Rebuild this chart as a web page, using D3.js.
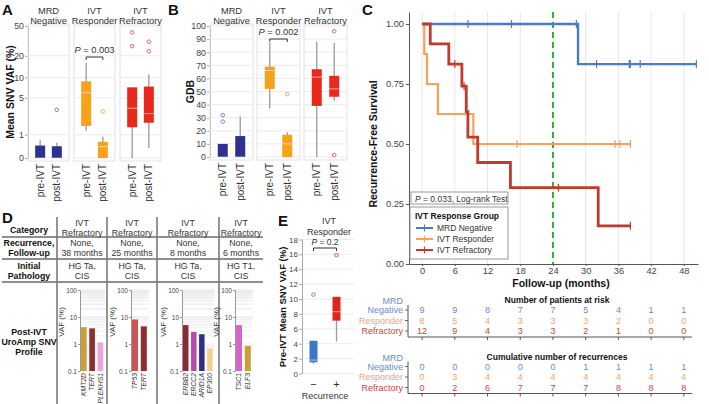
<!DOCTYPE html>
<html lang="en">
<head>
<meta charset="UTF-8">
<script src="https://d3js.org/d3.v7.min.js"></script>
<title>IVT response figure</title>
<style>
  body { margin: 0; background: #fff; }
  text { font-family: "Liberation Sans", Arial, sans-serif; fill: #333; }
</style>
</head>
<body>
<svg id="fig"></svg>
<script>
// ---------- data ----------
const abGroups = ["MRD Negative", "IVT Responder", "IVT Refractory"];
const abHeaders = [["MRD", "Negative"], ["IVT", "Responder"], ["IVT", "Refractory"]];
const abTimes = ["pre-IVT", "post-IVT"];
// box = [low whisker, q1, median, q3, high whisker]; order group x timepoint
const vafBoxes = [[0, 0, 0, 0.45, 0.72], [0, 0, 0, 0.42, 0.58],
                  [1.25, 1.6, 6.0, 8.8, 16], [0, 0, 0.4, 0.62, 0.88],
                  [0, 1.5, 3.4, 7.2, 7.2], [0.35, 1.86, 2.75, 7.4, 11]];
const vafOutliers = [[], [3.2], [], [3.0], [27, 41], [23, 31]];
const vafTicks = [0, 1, 5, 10, 20, 50];
const gdbBoxes = [[0, 0, 0, 10, 10], [0, 0, 0, 16, 31],
                  [37, 52, 66, 69, 87], [0, 0, 10, 17, 19],
                  [0, 39, 61, 67, 88], [43, 46, 52, 62, 87]];
const gdbOutliers = [[27, 32], [], [], [48], [], [1.5, 96]];
const gdbTicks = [0, 10, 20, 30, 40, 50, 60, 70, 80, 90, 100];

// Kaplan-Meier steps
const kmGroups = ["MRD Negative", "IVT Responder", "IVT Refractory"];
const mrdTimes = [0, 28.6, 50.3];
const mrdSurv = [1, 0.833, 0.833];
const mrdCensor = [8.4, 16.4, 28.3, 32, 38, 38.2, 40, 50.3];
const respTimes = [0, 0.4, 0.9, 2.9, 9.4, 38.2];
const respSurv = [1, 0.875, 0.75, 0.625, 0.5, 0.5];
const respCensor = [17.4, 35.4, 36.3, 38.2];
const refrTimes = [0, 1.5, 4.9, 7.3, 8.1, 8.4, 10.2, 16.2, 32.3, 38.2];
const refrSurv = [1, 0.917, 0.833, 0.741, 0.635, 0.529, 0.423, 0.318, 0.159, 0.159];
const refrCensor = [6.0, 7.7, 25, 38.2];
const monthTicks = [0, 6, 12, 18, 24, 30, 36, 42, 48];
const survTicks = [0, 0.25, 0.5, 0.75, 1];
const landmark = 24;

const mrdAtRisk = [9, 9, 8, 7, 7, 5, 4, 1, 1];
const respAtRisk = [8, 5, 4, 3, 3, 3, 2, 0, 0];
const refrAtRisk = [12, 9, 4, 3, 3, 2, 1, 0, 0];
const mrdCumRec = [0, 0, 0, 0, 0, 1, 1, 1, 1];
const respCumRec = [0, 3, 4, 4, 4, 4, 4, 4, 4];
const refrCumRec = [0, 2, 6, 7, 7, 7, 8, 8, 8];

// panel D
const dCategory = [["IVT", "Refractory"], ["IVT", "Refractory"], ["IVT", "Refractory"], ["IVT", "Refractory"]];
const dFollowUp = [["None,", "38 months"], ["None,", "25 months"], ["None,", "8 months"], ["None,", "6 months"]];
const dPathology = [["HG Ta,", "CIS"], ["HG Ta,", "CIS"], ["HG Ta,", "CIS"], ["HG T1,", "CIS"]];
const dGenes = [["KMT2D", "TERT", "PLEKHS1"], ["TP53", "TERT"], ["ERBB2", "ERCC2", "ARID1A", "EP300"], ["TSC1", "ELF3"]];
const dVaf = [[4.2, 3.8, 1.15], [8.1, 4.5], [5.0, 2.8, 2.3, 0.68], [5.0, 0.85]];
const dVafTicks = [0.1, 1, 10, 100];

// panel E
const eGroups = ["\u2212", "+"];
const eBoxes = [[1.3, 1.5, 1.8, 4.4, 4.4], [4.3, 7.1, 8.3, 10.3, 10.3]];
const eOutliers = [[10.6], [15.9]];
const eTicks = [0, 2, 4, 6, 8, 10, 12, 14, 16, 18];

// ---------- styles ----------
const boxFill = ["#2e3192", "#f7a21b", "#e8291c"];
const outlierCol = ["#7f83c6", "#f2b250", "#e46a62"];
const kmCol = ["#4b7bc5", "#f6a05c", "#c23a2b"];
const tabCol = ["#6a8cc9", "#f2a56c", "#c8463c"];
const geneCol = {KMT2D: "#c9a038", TERT: "#8e2f2f", PLEKHS1: "#eaa6dd", TP53: "#cc5454",
  ERBB2: "#8b2a35", ERCC2: "#b44bb0", ARID1A: "#2f2e86", EP300: "#f4cf8e", TSC1: "#d565c8", ELF3: "#c9a038"};

const svg = d3.select("#fig").attr("width", 709).attr("height", 404);

function panelLabel(t, x, y) {
  svg.append("text").attr("x", x).attr("y", y).attr("font-size", 15)
    .attr("font-weight", "bold").style("fill", "#111").text(t);
}

function pText(g, x, y, val, size) {
  const t = g.append("text").attr("x", x).attr("y", y).attr("text-anchor", "middle").attr("font-size", size);
  t.append("tspan").attr("font-style", "italic").text("P");
  t.append("tspan").text(" = " + val);
}

function bracket(g, x1, x2, y) {
  g.append("path").attr("d", `M${x1},${y + 3}V${y}H${x2}V${y + 3}`)
    .attr("fill", "none").attr("stroke", "#333").attr("stroke-width", 1);
}

function drawBox(g, cx, w, y, b, fill) {
  g.append("line").attr("x1", cx).attr("x2", cx).attr("y1", y(b[0])).attr("y2", y(b[4]))
    .attr("stroke", "#9a9a9a").attr("stroke-width", 1.3);
  g.append("rect").attr("x", cx - w / 2).attr("width", w).attr("y", y(b[3]))
    .attr("height", Math.max(0, y(b[1]) - y(b[3]))).attr("fill", fill);
  g.append("line").attr("x1", cx - w / 2).attr("x2", cx + w / 2).attr("y1", y(b[2])).attr("y2", y(b[2]))
    .attr("stroke", "rgba(255,255,255,0.55)").attr("stroke-width", 1);
}

function styleAxis(ax, size) {
  ax.selectAll("text").attr("font-size", size).style("fill", "#444");
  ax.select(".domain").attr("stroke", "#aaa");
  ax.selectAll(".tick line").attr("stroke", "#aaa");
}

// ---------- panels A and B ----------
function facetPanel(cfg) {
  const g = svg.append("g");
  const y = cfg.y;
  const [yb, yt] = y.range();
  const fx = d3.scaleBand().domain(abGroups).range([cfg.left, cfg.right]).paddingInner(cfg.gap);
  const px = d3.scalePoint().domain(abTimes).range([0, fx.bandwidth()]).padding(0.73);

  const ax = g.append("g").attr("transform", `translate(${cfg.left},0)`)
    .call(d3.axisLeft(y).tickValues(cfg.ticks).tickSize(3).tickPadding(1).tickSizeOuter(0));
  styleAxis(ax, 8.8);

  g.append("text").attr("transform", `translate(${cfg.titleX},${(yb + yt) / 2}) rotate(-90)`)
    .attr("text-anchor", "middle").attr("font-size", 10.5).attr("font-weight", "bold")
    .style("fill", "#111").text(cfg.title);

  abGroups.forEach((grp, gi) => {
    const f = g.append("g").attr("transform", `translate(${fx(grp)},0)`);
    f.selectAll("line.grid").data(cfg.ticks).join("line").attr("class", "grid")
      .attr("x1", 0).attr("x2", fx.bandwidth()).attr("y1", d => y(d)).attr("y2", d => y(d))
      .attr("stroke", "#ececec");
    f.append("rect").attr("x", 0).attr("y", yt - 2).attr("width", fx.bandwidth()).attr("height", yb - yt + 5)
      .attr("fill", "none").attr("stroke", "#e2e2e2");
    abHeaders[gi].forEach((line, li) => {
      f.append("text").attr("x", fx.bandwidth() / 2).attr("y", 14 + li * 10)
        .attr("text-anchor", "middle").attr("font-size", 9.3).text(line);
    });
    abTimes.forEach((tp, ti) => {
      const k = gi * 2 + ti;
      const cx = px(tp);
      drawBox(f, cx, 10, y, cfg.boxes[k], boxFill[gi]);
      f.selectAll(null).data(cfg.outliers[k]).join("circle")
        .attr("cx", cx).attr("cy", d => y(d)).attr("r", 1.8)
        .attr("fill", "none").attr("stroke", outlierCol[gi]).attr("stroke-width", 1);
      f.append("text").attr("transform", `translate(${cx + 3.5},${yb + 6}) rotate(-90)`)
        .attr("text-anchor", "end").attr("font-size", 10).text(tp);
    });
    if (gi === 1) {
      pText(f, fx.bandwidth() / 2, cfg.pY, cfg.p, 9.3);
      bracket(f, px("pre-IVT"), px("post-IVT"), cfg.pY + 4);
    }
  });
}

facetPanel({
  left: 28, right: 161, gap: 5 / 46,
  y: d3.scaleSymlog().constant(1).domain([0, 50]).range([158, 26]),
  ticks: vafTicks, boxes: vafBoxes, outliers: vafOutliers,
  title: "Mean SNV VAF (%)", titleX: 14, p: "0.003", pY: 53
});
facetPanel({
  left: 210, right: 347, gap: 4 / 47,
  y: d3.scaleLinear().domain([0, 100]).range([157, 26]),
  ticks: gdbTicks, boxes: gdbBoxes, outliers: gdbOutliers,
  title: "GDB", titleX: 194, p: "0.002", pY: 35
});
panelLabel("A", 2, 15);
panelLabel("B", 168, 15);

// ---------- panel C ----------
{
  const g = svg.append("g");
  const x = d3.scaleLinear().domain([-2.4, 50.6]).range([409, 698]);
  const y = d3.scaleLinear().domain([0, 1.05]).range([264, 12]);

  g.selectAll("line.vg").data(monthTicks).join("line").attr("class", "vg")
    .attr("x1", d => x(d)).attr("x2", d => x(d)).attr("y1", y(1.05)).attr("y2", y(0))
    .attr("stroke", "#e6e6e6").attr("stroke-width", 1);

  const ay = g.append("g").attr("transform", "translate(409,0)")
    .call(d3.axisLeft(y).tickValues(survTicks).tickFormat(d3.format(".2f")).tickSize(3).tickPadding(2).tickSizeOuter(0));
  const axb = g.append("g").attr("transform", `translate(0,${y(0)})`)
    .call(d3.axisBottom(x).tickValues(monthTicks).tickSize(2).tickPadding(1).tickSizeOuter(0));
  [ay, axb].forEach(a => {
    a.selectAll("text").attr("font-size", 9.3).style("fill", "#444");
    a.select(".domain").attr("stroke", "#555");
    a.selectAll(".tick line").attr("stroke", "#555");
  });

  g.append("line").attr("x1", x(landmark)).attr("x2", x(landmark)).attr("y1", y(1.05)).attr("y2", y(0))
    .attr("stroke", "#2fae3a").attr("stroke-width", 2).attr("stroke-dasharray", "6,4");

  const series = [[mrdTimes, mrdSurv, mrdCensor], [respTimes, respSurv, respCensor], [refrTimes, refrSurv, refrCensor]];
  const widths = [2.4, 2.2, 2.8];
  const line = d3.line().curve(d3.curveStepAfter).x(d => x(d[0])).y(d => y(d[1]));
  series.forEach(([T, S, C], i) => {
    g.append("path").attr("d", line(d3.zip(T, S))).attr("fill", "none")
      .attr("stroke", kmCol[i]).attr("stroke-width", widths[i]);
    g.selectAll(null).data(C).join("line")
      .attr("x1", d => x(d)).attr("x2", d => x(d))
      .attr("y1", d => y(S[d3.bisectRight(T, d) - 1]) - 4)
      .attr("y2", d => y(S[d3.bisectRight(T, d) - 1]) + 4)
      .attr("stroke", kmCol[i]).attr("stroke-width", 1.2);
  });

  g.append("text").attr("transform", `translate(377,${(y(0) + y(1)) / 2}) rotate(-90)`)
    .attr("text-anchor", "middle").attr("font-size", 10.5).attr("font-weight", "bold")
    .style("fill", "#111").text("Recurrence-Free Survival");
  g.append("text").attr("x", 561).attr("y", 287).attr("text-anchor", "middle")
    .attr("font-size", 10.5).attr("font-weight", "bold").style("fill", "#111").text("Follow-up (months)");

  // p-value box and legend
  g.append("rect").attr("x", 411).attr("y", 192).attr("width", 97).attr("height", 12)
    .attr("fill", "#fff").attr("stroke", "#999");
  const pt = g.append("text").attr("x", 415).attr("y", 201.5).attr("font-size", 8.5);
  pt.append("tspan").attr("font-style", "italic").text("P");
  pt.append("tspan").text(" = 0.033, Log-rank Test");

  g.append("rect").attr("x", 410).attr("y", 207).attr("width", 98).attr("height", 52)
    .attr("fill", "#fff").attr("stroke", "#999");
  g.append("text").attr("x", 415).attr("y", 219).attr("font-size", 8.5).attr("font-weight", "bold")
    .style("fill", "#111").text("IVT Response Group");
  kmGroups.forEach((name, i) => {
    const ly = 228 + i * 11;
    g.append("line").attr("x1", 416).attr("x2", 433).attr("y1", ly).attr("y2", ly)
      .attr("stroke", kmCol[i]).attr("stroke-width", 2);
    g.append("line").attr("x1", 424.5).attr("x2", 424.5).attr("y1", ly - 3.5).attr("y2", ly + 3.5)
      .attr("stroke", kmCol[i]).attr("stroke-width", 1.2);
    g.append("text").attr("x", 437).attr("y", ly + 3).attr("font-size", 8.5).text(name);
  });

  // risk tables
  function riskTable(title, rows, top) {
    const t = svg.append("g");
    t.append("text").attr("x", 557).attr("y", top).attr("text-anchor", "middle")
      .attr("font-size", 8.5).attr("font-weight", "bold").style("fill", "#111").text(title);
    t.append("text").attr("x", 403).attr("y", top + 1).attr("text-anchor", "end")
      .attr("font-size", 9).style("fill", tabCol[0]).text("MRD");
    const labels = ["Negative", "Responder", "Refractory"];
    const rowY = [top + 10, top + 20.5, top + 31];
    rows.forEach((vals, i) => {
      t.append("text").attr("x", 403).attr("y", rowY[i]).attr("text-anchor", "end")
        .attr("font-size", 9).style("fill", tabCol[i]).text(labels[i]);
      t.selectAll(null).data(vals).join("text")
        .attr("x", (d, j) => x(monthTicks[j])).attr("y", rowY[i]).attr("text-anchor", "middle")
        .attr("font-size", 9).style("fill", tabCol[i]).text(d => d);
      t.append("line").attr("x1", 405).attr("x2", 408).attr("y1", rowY[i] - 3).attr("y2", rowY[i] - 3)
        .attr("stroke", "#666");
    });
    const base = top + 34;
    t.append("path").attr("d", `M408,${top + 2}V${base}H692`).attr("fill", "none").attr("stroke", "#555");
    t.selectAll(null).data(monthTicks).join("line")
      .attr("x1", d => x(d)).attr("x2", d => x(d)).attr("y1", base).attr("y2", base + 3).attr("stroke", "#555");
  }
  riskTable("Number of patients at risk", [mrdAtRisk, respAtRisk, refrAtRisk], 303);
  riskTable("Cumulative number of recurrences", [mrdCumRec, respCumRec, refrCumRec], 359.5);
}
panelLabel("C", 362, 15);

// ---------- panel D ----------
{
  const g = svg.append("g");
  const colEdges = [57, 107, 157, 219, 263];
  const axisX = [80, 131, 182, 235];
  const barStep = 7.4;
  const centers = d3.range(4).map(i => (colEdges[i] + colEdges[i + 1]) / 2);

  [237, 259, 282].forEach(yy => g.append("line").attr("x1", 2).attr("x2", 263)
    .attr("y1", yy).attr("y2", yy).attr("stroke", "#222").attr("stroke-width", 1.2));
  colEdges.slice(0, 4).forEach(xx => g.append("line").attr("x1", xx).attr("x2", xx)
    .attr("y1", 217).attr("y2", 404).attr("stroke", "#7a7a7a").attr("stroke-width", 1.6));

  const rowLabels = [[["Category"], 233], [["Recurrence,", "Follow-up"], 246], [["Initial", "Pathology"], 269],
    [["Post-IVT", "UroAmp SNV", "Profile"], 335]];
  rowLabels.forEach(([lines, y0]) => lines.forEach((l, i) =>
    g.append("text").attr("x", 29).attr("y", y0 + i * 10).attr("text-anchor", "middle")
      .attr("font-size", 8.8).attr("font-weight", "bold").style("fill", "#111").text(l)));

  [[dCategory, 226], [dFollowUp, 246], [dPathology, 269]].forEach(([rows, y0]) =>
    rows.forEach((lines, c) => lines.forEach((l, i) =>
      g.append("text").attr("x", centers[c]).attr("y", y0 + i * 9.5).attr("text-anchor", "middle")
        .attr("font-size", 8.8).text(l))));

  const y = d3.scaleLog().domain([0.1, 100]).range([371, 290]);
  const minor = [];
  [0.1, 1, 10].forEach(dec => d3.range(1, 10).forEach(m => minor.push(dec * m)));
  minor.push(100);

  dGenes.forEach((genes, c) => {
    const x0 = axisX[c];
    const xb = d3.scaleBand().domain(genes).range([x0 + 1, x0 + 1 + genes.length * barStep]).paddingInner(0.32);
    const right = x0 + 3 + genes.length * barStep;
    g.selectAll(null).data(minor).join("line")
      .attr("x1", x0).attr("x2", right).attr("y1", d => y(d)).attr("y2", d => y(d))
      .attr("stroke", d => d >= 10 ? "#dedede" : "#ebebeb").attr("stroke-width", 0.8);
    const ax = g.append("g").attr("transform", `translate(${x0},0)`)
      .call(d3.axisLeft(y).tickValues(dVafTicks).tickFormat(d => d).tickSize(2).tickPadding(1).tickSizeOuter(0));
    ax.selectAll("text").attr("font-size", 6.5).style("fill", "#444");
    ax.select(".domain").attr("stroke", "#999");
    ax.selectAll(".tick line").attr("stroke", "#999");
    g.append("text").attr("transform", `translate(${x0 - 16},322) rotate(-90)`)
      .attr("text-anchor", "middle").attr("font-size", 8).text("VAF (%)");
    genes.forEach((gene, j) => {
      g.append("rect").attr("x", xb(gene)).attr("width", xb.bandwidth())
        .attr("y", y(dVaf[c][j])).attr("height", y(0.1) - y(dVaf[c][j])).attr("fill", geneCol[gene]);
      g.append("text").attr("transform", `translate(${xb(gene) + xb.bandwidth() / 2 + 2.3},373) rotate(-90)`)
        .attr("text-anchor", "end").attr("font-size", 6.8).attr("font-style", "italic").text(gene);
    });
  });
}
panelLabel("D", 2, 223);

// ---------- panel E ----------
{
  const g = svg.append("g");
  const y = d3.scaleLinear().domain([0, 18]).range([373.5, 239.5]);
  const x = d3.scalePoint().domain(eGroups).range([302, 348]).padding(0.5);
  const eCol = ["#3a79c6", "#e0261c"];
  const eOut = ["#5a8fd0", "#e05a55"];
  g.selectAll("line.eg").data(eTicks).join("line").attr("class", "eg")
    .attr("x1", 302).attr("x2", 354).attr("y1", d => y(d)).attr("y2", d => y(d)).attr("stroke", "#ececec");
  const ax = g.append("g").attr("transform", "translate(302,0)")
    .call(d3.axisLeft(y).tickValues(eTicks).tickSize(3).tickPadding(1).tickSizeOuter(0));
  styleAxis(ax, 8);
  g.append("text").attr("transform", `translate(286,307) rotate(-90)`).attr("text-anchor", "middle")
    .attr("font-size", 9.5).attr("font-weight", "bold").style("fill", "#111").text("Pre-IVT Mean SNV VAF (%)");
  g.append("text").attr("x", 329).attr("y", 224).attr("text-anchor", "middle").attr("font-size", 9).text("IVT");
  g.append("text").attr("x", 329).attr("y", 235).attr("text-anchor", "middle").attr("font-size", 9).text("Responder");
  pText(g, 325, 245, "0.2", 8.5);
  bracket(g, x(eGroups[0]), x(eGroups[1]), 248);
  eGroups.forEach((grp, i) => {
    drawBox(g, x(grp), 8, y, eBoxes[i], eCol[i]);
    g.selectAll(null).data(eOutliers[i]).join("circle").attr("cx", x(grp)).attr("cy", d => y(d))
      .attr("r", 1.8).attr("fill", "none").attr("stroke", eOut[i]).attr("stroke-width", 1);
    g.append("text").attr("x", x(grp)).attr("y", 388).attr("text-anchor", "middle").attr("font-size", 11).text(grp);
  });
  g.append("text").attr("x", 325).attr("y", 399).attr("text-anchor", "middle").attr("font-size", 9).text("Recurrence");
}
panelLabel("E", 278, 226);
</script>
</body>
</html>
